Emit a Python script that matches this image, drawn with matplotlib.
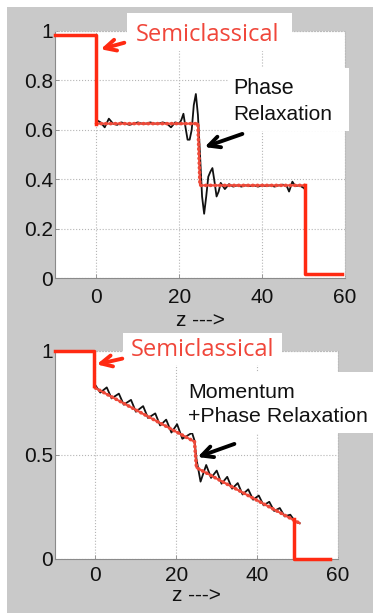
import matplotlib.pyplot as plt
from matplotlib.patches import Rectangle, FancyArrowPatch

W, H = 373, 613

# ---- top panel (phase relaxation) ----
top_semi_start_x = [-10, 0, 0]
top_semi_start_y = [0.985, 0.985, 0.625]
top_semi_end_x = [50.3, 50.3, 59.2]
top_semi_end_y = [0.375, 0.017, 0.017]
top_red_x = [0, 24.5, 25, 50.3]
top_red_y = [0.625, 0.625, 0.375, 0.375]
top_black_z = [0, 1, 2, 3, 4, 5, 6, 7, 8, 9, 10, 11, 12, 13, 14, 15, 16, 17, 18, 19, 20,
               20.5, 21, 21.5, 22, 22.5, 23, 23.5, 24, 24.5, 25, 25.5, 26, 26.5, 27, 27.5,
               28, 28.5, 29, 29.5, 30,
               31, 32, 33, 34, 35, 36, 37, 38, 39, 40, 41, 42, 43, 44, 45, 46,
               46.5, 47.3, 48, 49, 50, 50.3]
top_black_v = [0.64, 0.63, 0.61, 0.645, 0.625, 0.62, 0.63, 0.625, 0.62, 0.625, 0.63,
               0.625, 0.625, 0.63, 0.625, 0.625, 0.63, 0.625, 0.61, 0.63, 0.625,
               0.64, 0.665, 0.61, 0.56, 0.56, 0.60, 0.70, 0.745, 0.66, 0.50, 0.33, 0.26,
               0.33, 0.41, 0.43, 0.445, 0.39, 0.33, 0.35, 0.385,
               0.36, 0.38, 0.37, 0.375, 0.37, 0.375, 0.372, 0.375, 0.37, 0.375, 0.372,
               0.375, 0.37, 0.375, 0.378, 0.37,
               0.35, 0.39, 0.372, 0.375, 0.365, 0.36]
top_yticks = [0, 0.2, 0.4, 0.6, 0.8, 1]
top_ylabels = ['0', '0.2', '0.4', '0.6', '0.8', '1']

# ---- bottom panel (momentum + phase relaxation) ----
bot_semi_start_x = [-10, -0.3, -0.3]
bot_semi_start_y = [1.0, 1.0, 0.83]
bot_semi_end_x = [49, 49, 58]
bot_semi_end_y = [0.19, 0.0, 0.0]
bot_red_x = [0, 24.5, 25, 50.5]
bot_red_y = [0.822, 0.564, 0.439, 0.172]
bot_black_z = [0, 1.2, 2.8, 4.0, 5.8, 7.0, 8.8, 10.0, 11.8, 13.0, 14.8, 16.0, 17.5, 18.8,
               20.2, 21.5, 23.9, 24.5, 25, 26, 27.4, 28.6, 30, 31.2, 32.6, 33.8, 35.2,
               36.4, 37.8, 39, 40.4, 41.6, 43, 44.2, 45.6, 46.8, 48.2, 49.4, 50.5]
bot_black_v = [0.835, 0.80, 0.825, 0.772, 0.795, 0.742, 0.765, 0.708, 0.735, 0.678, 0.70,
               0.642, 0.67, 0.608, 0.648, 0.578, 0.607, 0.57, 0.48, 0.372, 0.452, 0.39,
               0.425, 0.362, 0.395, 0.338, 0.365, 0.31, 0.335, 0.285, 0.305, 0.258, 0.275,
               0.231, 0.245, 0.205, 0.213, 0.18, 0.172]
bot_yticks = [0, 0.5, 1]
bot_ylabels = ['0', '0.5', '1']

xticks = [0, 20, 40, 60]

RED = '#ff2a12'
RED_DOT = '#ee4a3a'
TXT_RED = '#f0463a'
FONT = ['Liberation Sans', 'DejaVu Sans']


def fx(x):
    return x / W


def fy(y):
    return 1 - y / H


def style(ax, yticks, ylabels, pad_x, lpad):
    ax.set_xlim(-10, 60)
    ax.set_ylim(0, 1)
    ax.set_xticks(xticks)
    ax.set_xticklabels([str(t) for t in xticks], family=FONT)
    ax.set_yticks(yticks)
    ax.set_yticklabels(ylabels, family=FONT)
    ax.grid(True, ls=':', color='#b5b5b5', lw=0.8)
    for s in ['left', 'bottom']:
        ax.spines[s].set_color('#8a8a8a')
        ax.spines[s].set_linewidth(0.8)
    for s in ['top', 'right']:
        ax.spines[s].set_color('#bbbbbb')
        ax.spines[s].set_linestyle(':')
        ax.spines[s].set_linewidth(0.8)
    ax.tick_params(direction='in', length=3, width=0.6, color='#8a8a8a',
                   labelsize=15, labelcolor='#111111')
    ax.tick_params(axis='x', pad=pad_x)
    ax.tick_params(axis='y', pad=1.5)
    ax.set_xlabel('z --->', fontsize=15, family=FONT, color='#111111', labelpad=lpad)


def draw(ax, sx, sy, ex, ey, rx, ry, bz, bv):
    ax.plot(bz, bv, color='#111111', lw=1.3, clip_on=False, zorder=3)
    ax.plot(rx, ry, color=RED_DOT, lw=1.5, clip_on=False, zorder=4)
    ax.plot(rx, ry, color=RED_DOT, lw=2.6, ls=(0, (0.1, 1.2)),
            solid_capstyle='round', dash_capstyle='round', clip_on=False, zorder=4)
    ax.plot(sx, sy, color=RED, lw=2.5, clip_on=False, zorder=5)
    ax.plot(ex, ey, color=RED, lw=2.5, clip_on=False, zorder=5)


fig = plt.figure(figsize=(W / 100, H / 100), dpi=100)
fig.patch.set_facecolor('white')
fig.add_artist(Rectangle((fx(7), 0), 1 - fx(7), fy(7), transform=fig.transFigure,
                         facecolor='#c9c9c9', edgecolor='none', zorder=-1))

ax1 = fig.add_axes([fx(55), fy(278), fx(345) - fx(55), fy(31) - fy(278)])
style(ax1, top_yticks, top_ylabels, 7, 3)
draw(ax1, top_semi_start_x, top_semi_start_y, top_semi_end_x, top_semi_end_y,
     top_red_x, top_red_y, top_black_z, top_black_v)

ax2 = fig.add_axes([fx(55), fy(559), fx(338) - fx(55), fy(351) - fy(559)])
style(ax2, bot_yticks, bot_ylabels, 5, 1)
draw(ax2, bot_semi_start_x, bot_semi_start_y, bot_semi_end_x, bot_semi_end_y,
     bot_red_x, bot_red_y, bot_black_z, bot_black_v)


def box(x0, y0, x1, y1):
    fig.add_artist(Rectangle((fx(x0), fy(y1)), fx(x1) - fx(x0), fy(y0) - fy(y1),
                             transform=fig.transFigure, facecolor='white',
                             edgecolor='none', zorder=1))


def arrow(x0, y0, x1, y1, color):
    fig.add_artist(FancyArrowPatch((fx(x0), fy(y0)), (fx(x1), fy(y1)),
                                   transform=fig.transFigure, arrowstyle='->',
                                   mutation_scale=20, lw=2.8, color=color, zorder=3))


# annotation boxes
box(127, 13, 292, 51)
box(228, 68, 349, 131)
box(123, 333, 282, 365)
box(182, 372, 373, 433)

fig.text(fx(136), fy(35), 'Semiclassical', color=TXT_RED, fontsize=17,
         family=['Open Sans', 'DejaVu Sans'], va='center', ha='left', zorder=3)
fig.text(fx(233), fy(88), 'Phase', color='#111111', fontsize=15.5,
         family=FONT, va='center', ha='left', zorder=3)
fig.text(fx(233), fy(115), 'Relaxation', color='#111111', fontsize=15,
         family=FONT, va='center', ha='left', zorder=3)
arrow(127, 42, 98, 50, RED)
arrow(245, 133, 202, 148, '#000000')

fig.text(fx(131), fy(350), 'Semiclassical', color=TXT_RED, fontsize=17,
         family=['Open Sans', 'DejaVu Sans'], va='center', ha='left', zorder=3)
fig.text(fx(188), fy(392), 'Momentum', color='#111111', fontsize=15.4,
         family=FONT, va='center', ha='left', zorder=3)
fig.text(fx(188), fy(417), '+Phase Relaxation', color='#111111', fontsize=15.4,
         family=FONT, va='center', ha='left', zorder=3)
arrow(125, 358, 94, 365, RED)
arrow(237, 443, 195, 458, '#000000')

fig.savefig('out.png', dpi=100)
